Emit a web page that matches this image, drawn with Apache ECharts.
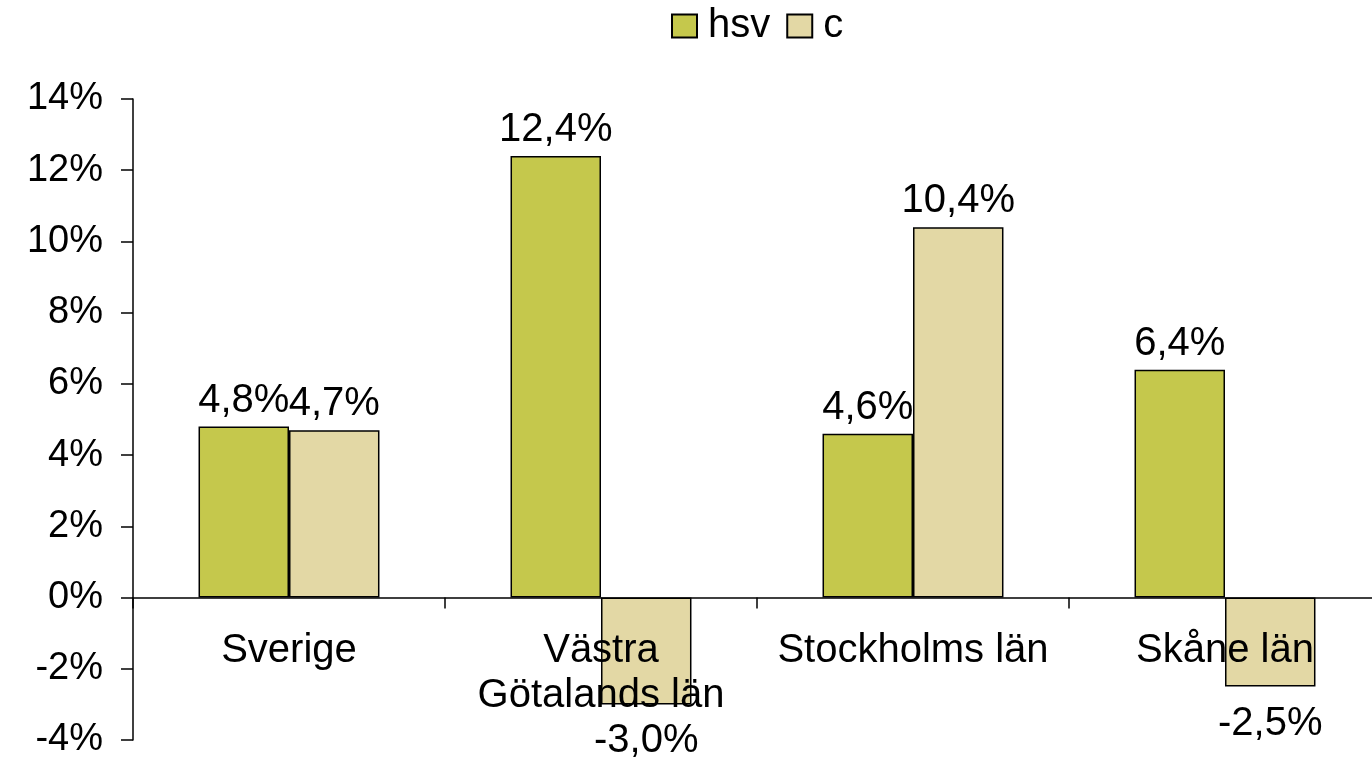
<!DOCTYPE html>
<html>
<head>
<meta charset="utf-8">
<script src="https://cdn.jsdelivr.net/npm/echarts@6/dist/echarts.min.js"></script>
<style>
  html, body { margin: 0; padding: 0; background: #fff; }
  #chart { width: 1372px; height: 758px; }
</style>
</head>
<body>
<div id="chart"></div>
<script>
const categories = ['Sverige', 'Västra\nGötalands län', 'Stockholms län', 'Skåne län']
const hsv = [4.8, 12.4, 4.6, 6.4]
const c = [4.7, -3.0, 10.4, -2.5]
const font = 'Liberation Sans, Arial, sans-serif'

const yMin = -4, yMax = 14
const gridTop = 99, gridBottom = 18, chartHeight = 758
// x-axeln ligger vid 0 %, labels följer med
const zeroOffset = (chartHeight - gridTop - gridBottom) * (0 - yMin) / (yMax - yMin)

function pct(v) {
    return v.toFixed(1).replace('.', ',') + '%'
}

// negativa staplar får etiketten under
function withLabels(values) {
    return values.map(v => ({
        value: v,
        label: v < 0 ? { position: 'bottom', distance: 17 } : { position: 'top', distance: 6 }
    }))
}

const chart = echarts.init(document.getElementById('chart'))
chart.setOption({
    animation: false,
    textStyle: { fontFamily: font },
    legend: {
        top: 1,
        left: 666,
        itemWidth: 25,
        itemHeight: 23,
        itemGap: 16,
        icon: 'rect',
        textStyle: { fontSize: 40, color: '#000', fontFamily: font, padding: [0, 0, 0, 6] },
        data: ['hsv', 'c']
    },
    grid: { left: 133, top: gridTop, width: 1248, bottom: gridBottom, outerBoundsMode: 'none', containLabel: false },
    xAxis: {
        type: 'category',
        data: categories,
        z: 5,
        offset: -zeroOffset,
        axisLine: { onZero: false, lineStyle: { color: '#000', width: 1.5 } },
        axisTick: { show: true, length: 11, lineStyle: { color: '#000', width: 1.5 } },
        axisLabel: {
            show: true,
            fontSize: 40,
            color: '#000',
            margin: 31,
            lineHeight: 45,
            interval: 0,
            hideOverlap: false,
            fontFamily: font
        },
        splitLine: { show: false }
    },
    yAxis: {
        type: 'value',
        min: yMin,
        max: yMax,
        interval: 2,
        axisLine: { show: true, lineStyle: { color: '#000', width: 1.5 } },
        axisTick: { show: true, length: 12, lineStyle: { color: '#000', width: 1.5 } },
        axisLabel: {
            fontSize: 38,
            color: '#000',
            margin: 30,
            hideOverlap: false,
            formatter: v => v + '%',
            fontFamily: font
        },
        splitLine: { show: false }
    },
    series: [
        {
            name: 'hsv',
            type: 'bar',
            data: withLabels(hsv),
            barGap: '0%',
            barCategoryGap: '42%',
            itemStyle: { color: '#c5c84c', borderColor: '#000', borderWidth: 1.5 },
            label: {
                show: true,
                fontSize: 40,
                color: '#000',
                formatter: p => pct(p.value),
                fontFamily: font
            }
        },
        {
            name: 'c',
            type: 'bar',
            data: withLabels(c),
            barGap: '0%',
            barCategoryGap: '42%',
            itemStyle: { color: '#e3d8a5', borderColor: '#000', borderWidth: 1.5 },
            label: {
                show: true,
                fontSize: 40,
                color: '#000',
                formatter: p => pct(p.value),
                fontFamily: font
            }
        }
    ]
})
</script>
</body>
</html>
